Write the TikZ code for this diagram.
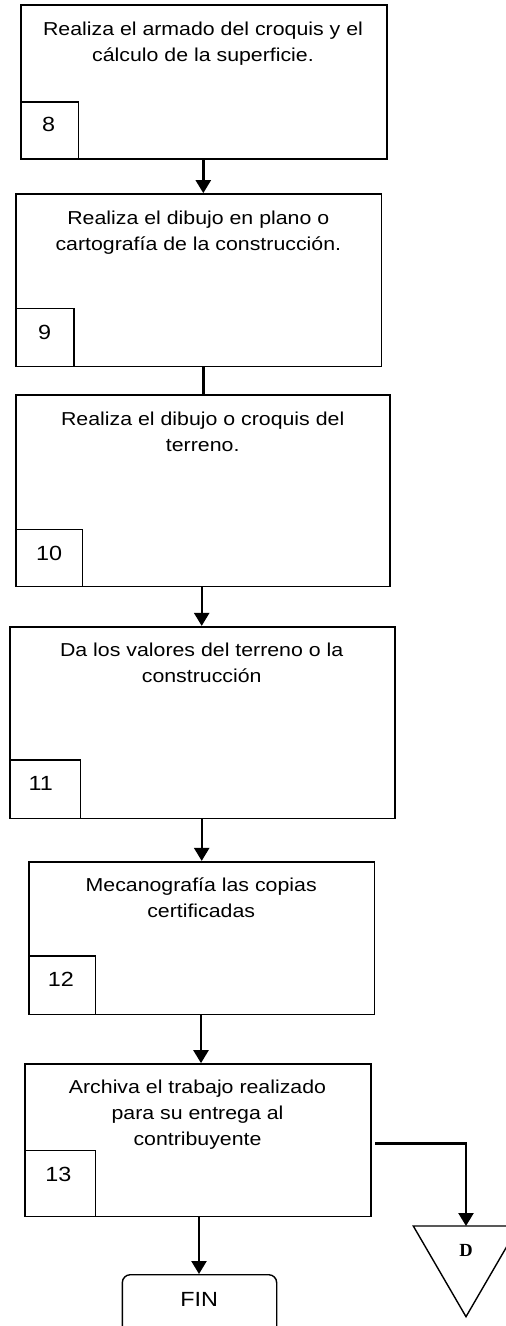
\documentclass[tikz,border=0pt]{standalone}
\usepackage{fontspec}
\setmainfont{Liberation Sans}[FakeStretch=1.14]
\newfontfamily\serifD{Liberation Serif}
\usetikzlibrary{arrows.meta}
\newcommand\fstrut{\rule{0pt}{20pt}}
\tikzset{
  stepbox/.style={draw=black, line width=1.6pt, rectangle, inner sep=0pt},
  numbox/.style={draw=black, line width=1.4pt, rectangle, inner sep=0pt, anchor=south west},
  numtext/.style={anchor=base, inner sep=0pt, font=\fontsize{20.5}{24}\selectfont},
  steptext/.style={anchor=north, align=center, inner sep=0pt, font=\fontsize{18.7}{26}\selectfont},
  arr/.style={line width=2.4pt, -{Triangle[length=13pt,width=15pt]}},
  plainline/.style={line width=2.4pt},
  thinline/.style={draw=black, line width=1.4pt}
}
\begin{document}
\begin{tikzpicture}[x=1pt,y=-1pt]
\clip (0,0) rectangle (506,1326);
\fill[white] (0,0) rectangle (506,1326);

% column coordinates for connectors
\coordinate (c1) at (203.3,0);
\coordinate (c2) at (201.7,0);
\coordinate (c3) at (201,0);
\coordinate (c4) at (199,0);

% Step 8
\node[stepbox, minimum width=366pt, minimum height=154pt] (b8) at (203.7,82) {};
\node[steptext] (t8) at (203,15.7) {\fstrut Realiza el armado del croquis y el\\cálculo de la superficie.};
\node[numbox, minimum width=58pt, minimum height=57.3pt] (n8) at (b8.south west) {};
\node[numtext] (l8) at (48.5,131.7) {8};

% Step 9
\node[stepbox, minimum width=365.7pt, minimum height=172.7pt] (b9) at (198.8,280.3) {};
\node[steptext] (t9) at (198.3,204) {\fstrut Realiza el dibujo en plano o\\cartografía de la construcción.};
\node[numbox, minimum width=58pt, minimum height=58.4pt] (n9) at (b9.south west) {};
\node[numtext] (l9) at (44.7,339.3) {9};

% Step 10
\node[stepbox, minimum width=374pt, minimum height=191.7pt] (b10) at (203,490.8) {};
\node[steptext] (t10) at (202.7,405) {\fstrut Realiza el dibujo o croquis del\\terreno.};
\node[numbox, minimum width=66.7pt, minimum height=57.4pt] (n10) at (b10.south west) {};
\node[numtext] (l10) at (49.2,560) {10};

% Step 11
\node[stepbox, minimum width=385pt, minimum height=191.6pt] (b11) at (202.5,722.5) {};
\node[steptext] (t11) at (201.7,636.7) {\fstrut Da los valores del terreno o la\\construcción};
\node[numbox, minimum width=70.7pt, minimum height=58.3pt] (n11) at (b11.south west) {};
\node[numtext] (l11) at (40.8,790.7) {11};

% Step 12
\node[stepbox, minimum width=345.3pt, minimum height=152.6pt] (b12) at (201.7,938) {};
\node[steptext] (t12) at (201.2,871.7) {\fstrut Mecanografía las copias\\certificadas};
\node[numbox, minimum width=66.7pt, minimum height=58.3pt] (n12) at (b12.south west) {};
\node[numtext] (l12) at (60.8,986.7) {12};

% Step 13
\node[stepbox, minimum width=346pt, minimum height=152.7pt] (b13) at (198,1140.3) {};
\node[steptext] (t13) at (197.5,1073.3) {\fstrut Archiva el trabajo realizado\\para su entrega al\\contribuyente};
\node[numbox, minimum width=70.7pt, minimum height=66pt] (n13) at (b13.south west) {};
\node[numtext] (l13) at (58.3,1181.7) {13};

% FIN terminal (cut by the lower edge)
\node[draw=black, line width=1.4pt, rounded corners=8pt, minimum width=154.4pt, minimum height=80pt, anchor=north, inner sep=0pt] (fin) at (199.5,1274) {};
\node[numtext] (fint) at (199.2,1306.7) {FIN};

% Off-page connector D (cut by the right edge)
\coordinate (dtop) at (466,1226);
\draw[thinline] (413.3,1226) -- (518.7,1226) -- (466,1316.7) -- cycle;
\node[anchor=base, font=\serifD\bfseries\fontsize{18.5}{22}\selectfont, inner sep=0pt] (dlab) at (466,1256.7) {D};

% Connectors
\draw[arr] (b8.south -| c1) -- (b9.north -| c1);
\draw[plainline] (b9.south -| c1) -- (b10.north -| c1);
\draw[arr] (b10.south -| c2) -- (b11.north -| c2);
\draw[arr] (b11.south -| c2) -- (b12.north -| c2);
\draw[arr] (b12.south -| c3) -- (b13.north -| c3);
\draw[arr] (b13.south -| c4) -- (fin.north -| c4);
\coordinate (br) at (375,1143.3);
\draw[arr] (br) -| (dtop);
\end{tikzpicture}
\end{document}
